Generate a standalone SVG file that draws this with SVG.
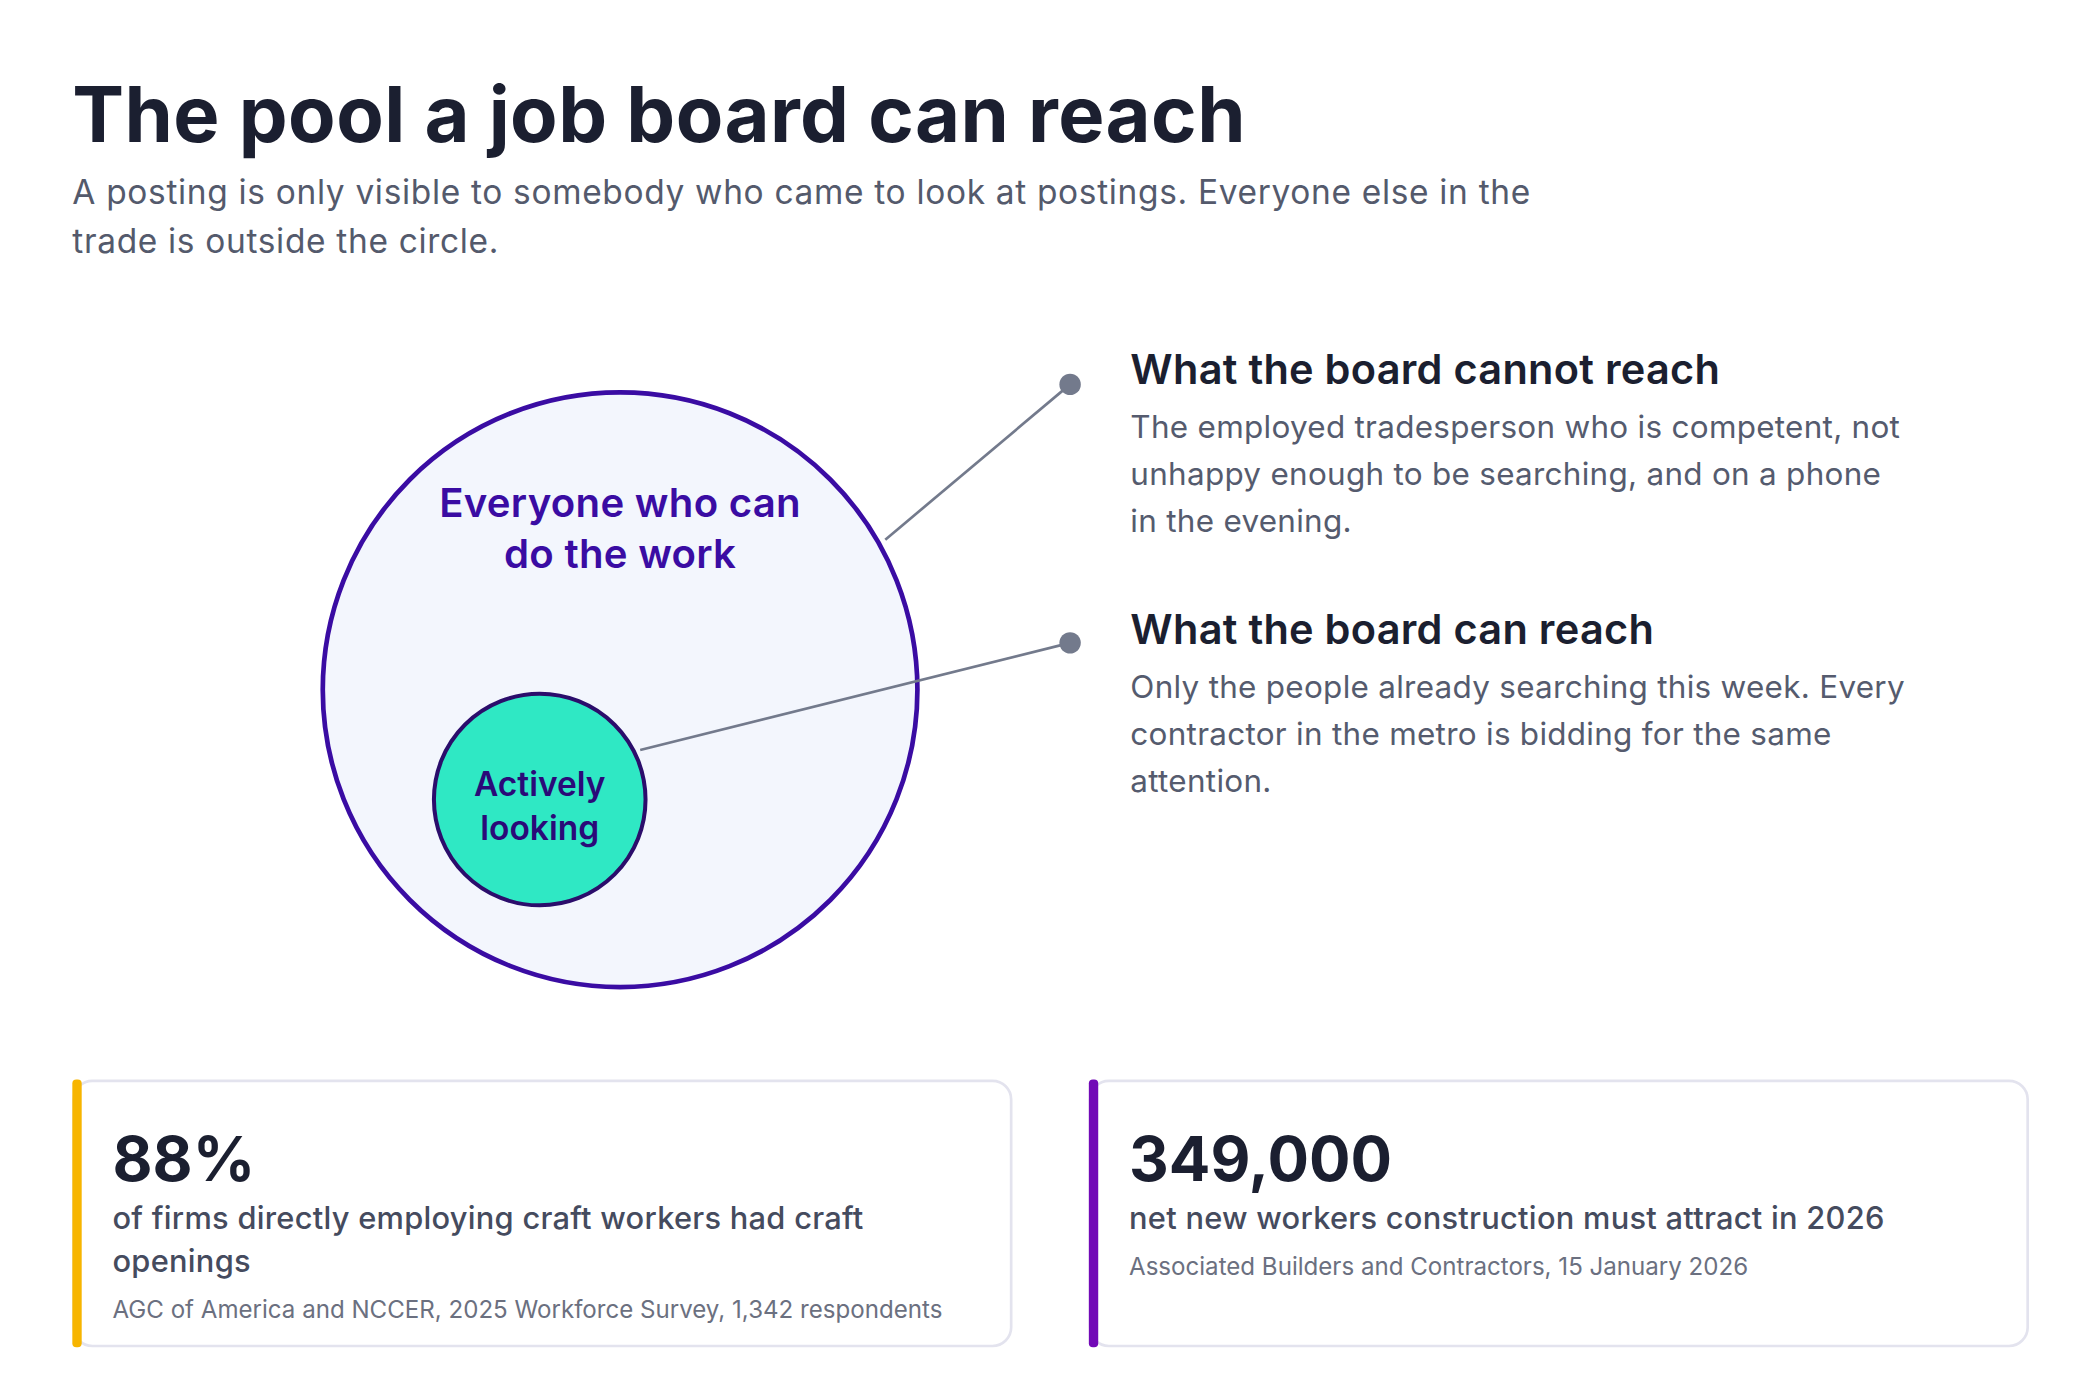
<svg xmlns="http://www.w3.org/2000/svg" width="2100" height="1400" viewBox="0 0 2100 1400">
<style>
text{font-family:Inter,"Noto Sans","Liberation Sans",sans-serif}
.t{font-size:58px;font-weight:700;fill:#1b1f30;letter-spacing:0.3px}
.sub{font-size:25px;fill:#545a6c;letter-spacing:0.5px}
.h{font-size:31px;font-weight:600;fill:#1b1f30;letter-spacing:0.2px}
.b{font-size:23.5px;fill:#555b6e;letter-spacing:0.2px}
.big{font-size:30px;font-weight:600;fill:#3a0ca3;letter-spacing:0.2px}
.sm{font-size:25px;font-weight:600;fill:#2a0a78}
.n{font-size:46px;font-weight:700;fill:#1b1f30}
.cd{font-size:23px;font-weight:500;fill:#454b5e;letter-spacing:0.2px}
.src{font-size:18px;fill:#6b7080}
.ln{stroke:#737a8c;stroke-width:2;fill:none}
.dot{fill:#737a8c}
.card{fill:#fff;stroke:#e3e3ee;stroke-width:2}
</style>
<rect width="2100" height="1400" fill="#fff"/>
<g transform="scale(1.33929)">
<g id="title">
<text class="t" x="54" y="106">The pool a job board can reach</text>
<text class="sub" x="54" y="152">A posting is only visible to somebody who came to look at postings. Everyone else in the</text>
<text class="sub" x="54" y="189">trade is outside the circle.</text>
</g>
<g id="pool">
<circle cx="463" cy="515" r="222" fill="#f3f6fd" stroke="#3a0ca3" stroke-width="3.5"/>
<text class="big" x="463" y="386" text-anchor="middle">Everyone who can</text>
<text class="big" x="463" y="424" text-anchor="middle">do the work</text>
</g>
<g id="active">
<circle cx="403" cy="597" r="79" fill="#2fe8c4" stroke="#2b0d6b" stroke-width="3"/>
<text class="sm" x="403" y="594" text-anchor="middle">Actively</text>
<text class="sm" x="403" y="627" text-anchor="middle">looking</text>
</g>
<g id="connectors">
<line class="ln" x1="661" y1="403" x2="799" y2="287"/>
<circle class="dot" cx="799" cy="287" r="8"/>
<line class="ln" x1="478" y1="560" x2="799" y2="480"/>
<circle class="dot" cx="799" cy="480" r="8"/>
</g>
<g id="cannot">
<text class="h" x="844" y="287">What the board cannot reach</text>
<text class="b" x="844" y="327">The employed tradesperson who is competent, not</text>
<text class="b" x="844" y="362">unhappy enough to be searching, and on a phone</text>
<text class="b" x="844" y="397">in the evening.</text>
</g>
<g id="can">
<text class="h" x="844" y="481">What the board can reach</text>
<text class="b" x="844" y="521">Only the people already searching this week. Every</text>
<text class="b" x="844" y="556">contractor in the metro is bidding for the same</text>
<text class="b" x="844" y="591">attention.</text>
</g>
<g id="card1">
<rect class="card" x="55" y="807" width="700" height="198" rx="14"/>
<rect x="54" y="806" width="7" height="200" rx="3" fill="#f7b500"/>
<text class="n" x="84" y="882">88%</text>
<text class="cd" x="84" y="918">of firms directly employing craft workers had craft</text>
<text class="cd" x="84" y="950">openings</text>
<text class="src" x="84" y="984">AGC of America and NCCER, 2025 Workforce Survey, 1,342 respondents</text>
</g>
<g id="card2">
<rect class="card" x="814" y="807" width="700" height="198" rx="14"/>
<rect x="813" y="806" width="7" height="200" rx="3" fill="#7209b7"/>
<text class="n" x="843" y="882">349,000</text>
<text class="cd" x="843" y="918">net new workers construction must attract in 2026</text>
<text class="src" x="843" y="952">Associated Builders and Contractors, 15 January 2026</text>
</g>
</g>
</svg>
